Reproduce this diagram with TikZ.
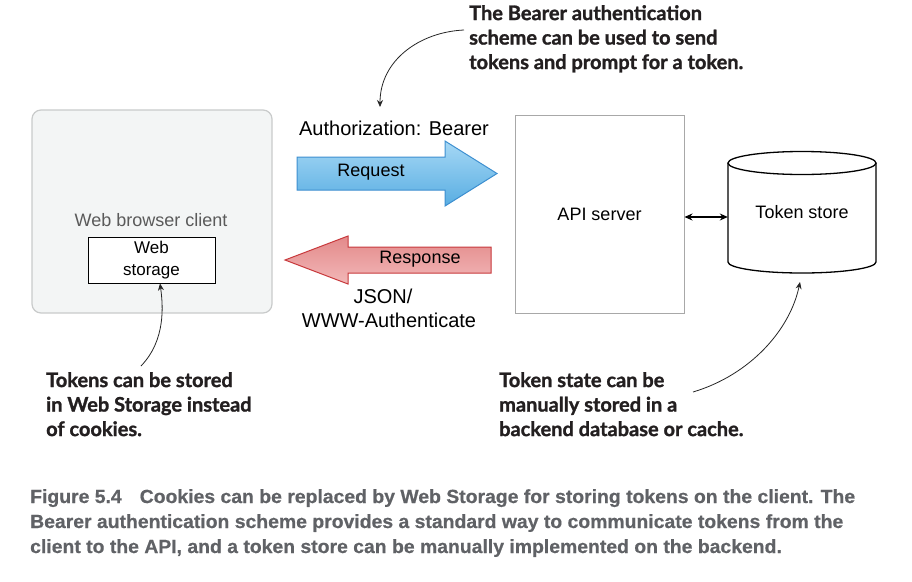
\documentclass[tikz,border=0pt]{standalone}
\usepackage{fontspec}
\setmainfont{Liberation Sans}
\newfontfamily\callfont[FakeBold=1.3]{Lato}
\newfontfamily\capfont[FakeStretch=1.02,FakeBold=0.6]{Liberation Sans}
\usetikzlibrary{arrows.meta}
\definecolor{clientfill}{HTML}{F3F5F5}
\definecolor{clientdraw}{HTML}{C9CBCB}
\definecolor{clienttext}{HTML}{5A5A5A}
\definecolor{serverdraw}{HTML}{A8A8A8}
\definecolor{reqtop}{HTML}{A6D8F5}
\definecolor{reqbot}{HTML}{58ADE2}
\definecolor{reqdraw}{HTML}{3D8FD0}
\definecolor{restop}{HTML}{E3898A}
\definecolor{resbot}{HTML}{F2B8B8}
\definecolor{resdraw}{HTML}{C8393C}
\definecolor{calltext}{HTML}{231F20}
\definecolor{captext}{HTML}{606266}
\tikzset{
  lbl/.style={inner sep=0pt, font=\fontsize{18}{21}\selectfont},
  biglbl/.style={inner sep=0pt, font=\fontsize{20}{24}\selectfont},
  callout/.style={inner sep=0pt, anchor=north west, align=left, text=calltext,
    font=\callfont\bfseries\fontsize{20}{24.5}\selectfont},
  capline/.style={inner sep=0pt, anchor=base west, text=captext,
    font=\capfont\bfseries\fontsize{19}{22}\selectfont},
  callarrow/.style={draw=black!85, line width=0.8pt, -{Stealth[length=7pt,width=6pt]}},
}
\begin{document}
\begin{tikzpicture}[x=1pt,y=-1pt]
\useasboundingbox (0,0) rectangle (912,581);
\fill[white] (0,0) rectangle (912,581);

% web browser client
\draw[fill=clientfill, draw=clientdraw, line width=1.2pt, rounded corners=9pt] (32,110) rectangle (272,313);
\node[lbl, text=clienttext] (wbc) at (151,220) {Web browser client};
\node[draw=black, line width=1pt, fill=white, minimum width=127pt, minimum height=46pt, inner sep=0pt,
  align=center, font=\fontsize{17}{22}\selectfont] (ws) at (151.5,260) {Web\\storage};

% API server
\node[draw=serverdraw, line width=1pt, minimum width=169pt, minimum height=198pt, inner sep=0pt,
  font=\fontsize{18}{21}\selectfont] (api) at (599.5,214) {API server};

% token store cylinder
\draw[line width=1.3pt, fill=white] (728,163) -- (728,262) arc[start angle=180, end angle=0, x radius=74, y radius=11] -- (876,163);
\draw[line width=1.3pt] (802,163) ellipse [x radius=74, y radius=11.5];
\node[lbl, minimum width=148pt, minimum height=110pt] (ts) at (802,212) {Token store};

\draw[line width=1.7pt, {Stealth[length=8pt,width=7pt]}-{Stealth[length=8pt,width=7pt]}]
  ([yshift=-3pt]api.east) -- ([yshift=-3pt]api.east -| ts.west);

% request arrow
\shade[top color=reqtop, bottom color=reqbot, draw=reqdraw, line width=1pt]
  (297,157) -- (445,157) -- (445,141) -- (497,173.5) -- (445,206) -- (445,190) -- (297,190) -- cycle;
\node[lbl] (req) at (371,172) {Request};
\node[biglbl] (auth) at (394,128) {Authorization: Bearer};

% response arrow
\shade[top color=restop, bottom color=resbot, draw=resdraw, line width=1pt]
  (491,247) -- (348,247) -- (348,236) -- (285,260) -- (348,284) -- (348,273) -- (491,273) -- cycle;
\node[lbl] (res) at (420,259) {Response};
\node[biglbl, align=center] (json) at (389,308) {\makebox[0pt]{\hspace*{-12pt}JSON/}\\[0pt]WWW-Authenticate};

% callouts
\node[callout] (c1) at (469,5) {The Bearer authentication\\scheme can be used to send\\tokens and prompt for a token.};
\node[callout] (c2) at (46,372) {Tokens can be stored\\in Web Storage instead\\of cookies.};
\node[callout] (c3) at (499,372) {Token state can be\\manually stored in a\\backend database or cache.};

\coordinate (c1s) at (464,30);
\coordinate (c1e) at (380,107);
\draw[callarrow] (c1s) .. controls (420,32) and (380,60) .. (c1e);
\coordinate (c2s) at (141,366);
\draw[callarrow] (c2s) .. controls (166,340) and (163,305) .. (ws.south -| 160,0);
\coordinate (c3s) at (693,392);
\coordinate (c3e) at (800,282);
\draw[callarrow] (c3s) .. controls (750,375) and (790,330) .. (c3e);

% caption
\node[capline] (cap1) at (30,503) {Figure 5.4\hspace{18pt}Cookies can be replaced by Web Storage for storing tokens on the client. The};
\node[capline] (cap2) at (30,528) {Bearer authentication scheme provides a standard way to communicate tokens from the};
\node[capline] (cap3) at (30,553) {client to the API, and a token store can be manually implemented on the backend.};
\end{tikzpicture}
\end{document}
